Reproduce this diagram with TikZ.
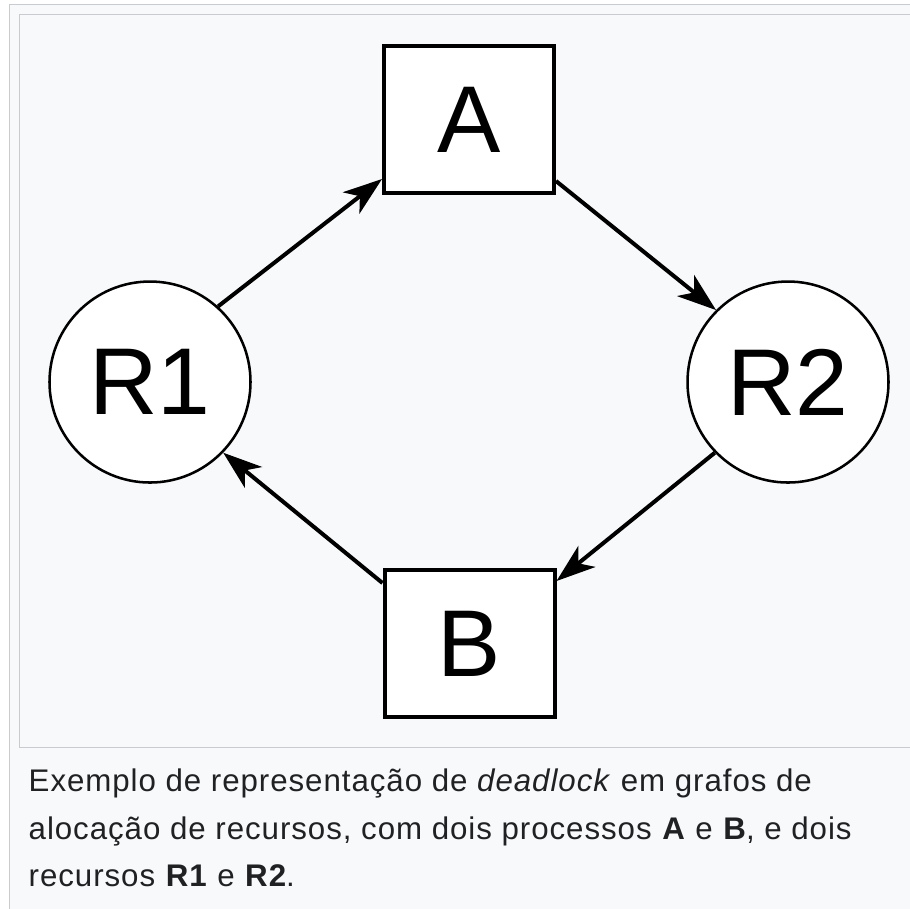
\documentclass[tikz,border=0pt]{standalone}
\usepackage{fontspec}
\setmainfont{Liberation Sans}
\newfontfamily\capfont[LetterSpace=3.0]{Liberation Sans}
\usetikzlibrary{arrows.meta}
\definecolor{thumbbg}{HTML}{F8F9FA}
\definecolor{thumbline}{HTML}{C8CCD1}
\definecolor{captext}{HTML}{202122}
\begin{document}
\begin{tikzpicture}
            \tikzset{process/.style={draw, line width=1.14pt, fill=white, inner sep=0pt,
                        minimum width=1.70cm, minimum height=1.47cm,
                        font=\fontsize{27pt}{30pt}\selectfont}};
            \tikzset{resource/.style={draw, circle, line width=0.72pt, fill=white, inner sep=0pt,
                        minimum size=2.01cm, font=\fontsize{27pt}{30pt}\selectfont}};
            \tikzset{edge/.style={line width=1.14pt,
                        -{Stealth[length=0.39cm, width=0.27cm, inset=0.11cm]}}};
            \tikzset{caption/.style={anchor=base west, inner sep=0pt, text=captext,
                        font=\capfont\fontsize{8.9pt}{10pt}\selectfont}};

            \clip (0,0) rectangle (9.10,-9.08);
            \fill[white] (0,0) rectangle (9.10,-9.08);

            \fill[thumbbg] (0.095,-0.045) rectangle (9.40,-9.40);
            \draw[thumbline, line width=0.4pt] (9.40,-0.045) -- (0.095,-0.045) -- (0.095,-9.40);
            \draw[thumbline, line width=0.4pt] (9.40,-0.145) -- (0.195,-0.145) -- (0.195,-7.475) -- (9.40,-7.475);

            \node[process] (A) at (4.69,-1.195) {A};
            \node[process] (B) at (4.695,-6.435) {B};
            \node[resource] (R1) at (1.50,-3.82) {R1};
            \node[resource] (R2) at (7.88,-3.82) {R2};

            \draw[edge] (R1.48) -- ([yshift=0.16cm]A.south west);
            \draw[edge] ([yshift=0.14cm]A.south east) -- (R2.135);
            \draw[edge] (R2.224) -- ([yshift=-0.13cm]B.north east);
            \draw[edge] ([yshift=-0.15cm]B.north west) -- (R1.-44);

            \node[caption] (cap1) at (0.28,-7.91) {Exemplo de representação de \textit{deadlock} em grafos de};
            \node[caption] (cap2) at (0.28,-8.395) {alocação de recursos, com dois processos \textbf{A} e \textbf{B}, e dois};
            \node[caption] (cap3) at (0.28,-8.86) {recursos \textbf{R1} e \textbf{R2}.};
        \end{tikzpicture}
\end{document}
